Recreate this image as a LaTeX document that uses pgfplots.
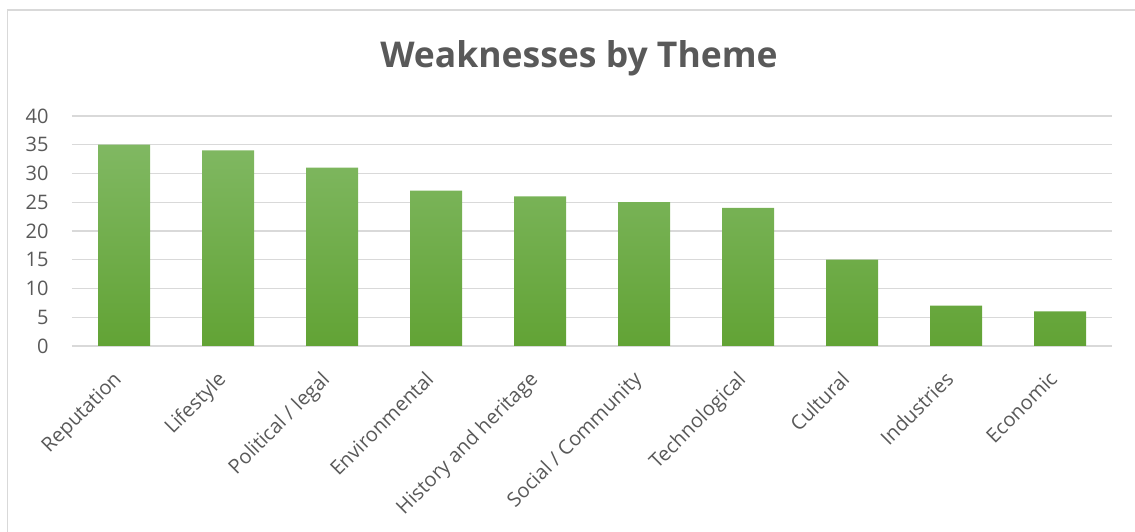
\documentclass[border=0pt]{standalone}
\usepackage{pgfplots}
\pgfplotsset{compat=1.18}
\usepackage{fontspec}
\setmainfont{Open Sans}
\definecolor{txtgray}{HTML}{595959}
\definecolor{gridgray}{HTML}{D9D9D9}
\definecolor{bartop}{HTML}{80B862}
\definecolor{barbot}{HTML}{62A335}
\begin{document}
\begin{tikzpicture}
\useasboundingbox (0,0) rectangle (1135pt,532pt);
\draw[gridgray, line width=1.5pt] (7.5pt,0) -- (7.5pt,522pt) -- (1135pt,522pt);
\node[txtgray, font=\fontsize{35.5pt}{40pt}\selectfont\bfseries] at (579pt,474pt) {Weaknesses by Theme};
\begin{axis}[
  at={(72pt,186pt)}, anchor=south west,
  scale only axis, width=1040pt, height=230pt,
  xmin=-0.5, xmax=9.5, ymin=0, ymax=40,
  ytick={0,5,...,40}, xtick=data,
  xticklabels={Reputation,Lifestyle,Political / legal,Environmental,History and heritage,Social / Community,Technological,Cultural,Industries,Economic},
  axis line style={draw=none},
  axis x line*=bottom, axis y line*=left,
  major tick length=0pt,
  ymajorgrids, grid style={gridgray, line width=1.3pt},
  tick label style={txtgray, font=\fontsize{20pt}{24pt}\selectfont},
  /pgf/number format/assume math mode=true,
  yticklabel style={anchor=east, xshift=-20pt},
  xticklabel style={rotate=45, anchor=north east, xshift=-22pt, yshift=-5pt},
  clip=false,
]
\addplot[ybar, bar width=52pt, draw=none, top color=bartop, bottom color=barbot] coordinates {
(0,35) (1,34) (2,31) (3,27) (4,26) (5,25) (6,24) (7,15) (8,7) (9,6)};
\end{axis}
\end{tikzpicture}
\end{document}
